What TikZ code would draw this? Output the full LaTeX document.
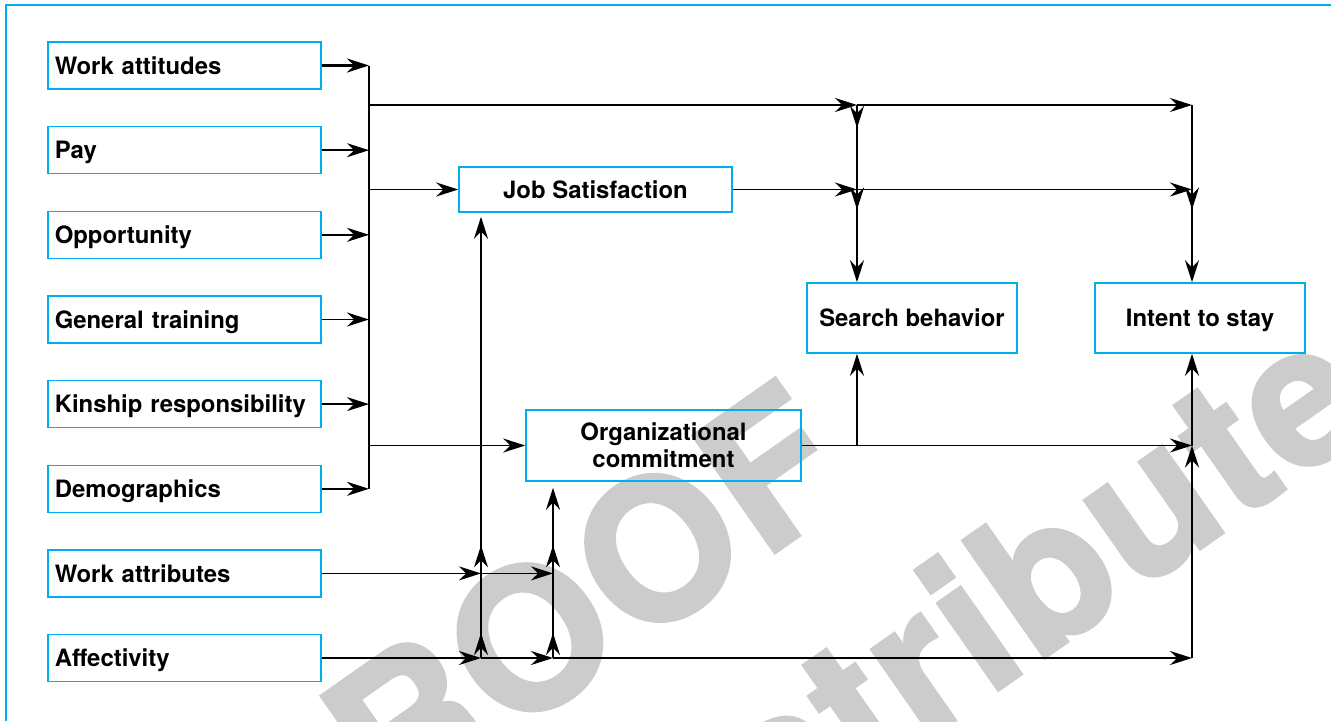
\documentclass[tikz,border=0pt]{standalone}
\usepackage{fontspec}
\setmainfont{TeX Gyre Heros}
\newfontfamily\markfont[FakeBold=2, LetterSpace=2]{TeX Gyre Heros}
\usetikzlibrary{arrows.meta}
\definecolor{boxcyan}{RGB}{0,174,239}
\tikzset{
	factor/.style={draw=boxcyan, line width=0.3mm, anchor=west, minimum height=9.4mm, text width=51.8mm, inner xsep=1.4mm, text height=9.8pt, text depth=0pt, align=left, font=\bfseries\fontsize{13.6}{15.4}\selectfont},
	stage/.style={draw=boxcyan, line width=0.3mm, align=center, font=\bfseries\fontsize{13.6}{15.4}\selectfont},
	wmark/.style={text=black!20, rotate=35, font=\markfont\bfseries\fontsize{111}{111}\selectfont}
}

\begin{document}
\begin{tikzpicture}[x=0.2mm, y=-0.2mm, line width=0.35mm, >={Stealth[length=4.4mm,width=2.8mm]}]
		\useasboundingbox (0,0) rectangle (1331,721);

		% Watermark behind everything, cut at the page edge
		\begin{scope}
			\clip (0,0) rectangle (1331,721);
			\node[wmark] (proof) at (530,637) {PROOF};
			\node[wmark] (nodist) at (680,825) {Do not distribute};
		\end{scope}

		% Frame, top and left only
		\draw[boxcyan, line width=0.25mm] (6,721) -- (6,5) -- (1331,5);

		% Draw input boxes
		\node[factor] (wa) at (47,65.5) {Work attitudes};
		\node[factor] (pay) at (47,150.2) {Pay};
		\node[factor] (opp) at (47,234.8) {Opportunity};
		\node[factor] (gt) at (47,319.5) {General training};
		\node[factor] (kin) at (47,404.1) {Kinship responsibility};
		\node[factor] (dem) at (47,488.8) {Demographics};
		\node[factor] (wat) at (47,573.4) {Work attributes};
		\node[factor] (aff) at (47,658) {Affectivity};

		% Draw outcome boxes
		\node[stage, minimum width=54.6mm, minimum height=9mm, text height=9.8pt, text depth=0pt] (js) at (595.5,189.5) {Job Satisfaction};
		\node[stage, minimum width=55mm, minimum height=14.2mm] (org) at (663.5,445.5) {Organizational\\commitment};
		\node[stage, minimum width=42mm, minimum height=14mm, text height=9.8pt, text depth=0pt] (search) at (912,318) {Search behavior};
		\node[stage, minimum width=42mm, minimum height=14mm, text height=9.8pt, text depth=0pt] (intent) at (1200,318) {Intent to stay};

		% Junctions
		\coordinate (bus) at (369,0);
		\coordinate (b1) at (369,105);
		\coordinate (a1) at (857,105);
		\coordinate (a2) at (857,189.5);
		\coordinate (a3) at (857,445.5);
		\coordinate (c1) at (1192,105);
		\coordinate (c2) at (1192,189.5);
		\coordinate (c3) at (1192,445.5);
		\coordinate (c4) at (1192,658);
		\coordinate (d1) at (481,658);
		\coordinate (d2) at (481,573.4);
		\coordinate (e1) at (553,658);
		\coordinate (e2) at (553,573.4);

		% -----------------------------------------------------
		\draw[->, line width=0.6mm] (wa.east) -- (wa.east -| bus);
		\draw[->] (pay.east) -- (pay.east -| bus);
		\draw[->] (opp.east) -- (opp.east -| bus);
		\draw[->] (gt.east) -- (gt.east -| bus);
		\draw[->] (kin.east) -- (kin.east -| bus);
		\draw[->] (dem.east) -- (dem.east -| bus);
		\draw (wa.east -| bus) -- (dem.east -| bus);

		\draw[->] (b1) -- (a1);
		\draw[->] (a1) -- (c1);
		\draw[->] (js.west -| bus) -- (js.west);
		\draw[->] (js.east) -- (a2);
		\draw[->] (a2) -- (c2);
		\draw[->] (org.west -| bus) -- (org.west);
		\draw[->] (org.east) -- (c3);
		\draw[->] (a3) -- (a3 |- search.south);

		% -----------------------------------------------------
		\draw[->] (a1) -- (a1 |- search.north);
		\draw[->] (a1) -- ++(0,23);
		\draw[->] (a2) -- ++(0,20);
		\draw[->] (c1) -- (c1 |- intent.north);
		\draw[->] (c2) -- ++(0,20);
		\draw[->] (c4) -- (c3);
		\draw[->] (c3) -- (c3 |- intent.south);

		% -----------------------------------------------------
		\draw[->] (wat.east) -- (d2);
		\draw[->] (d2) -- (e2);
		\draw[->] (aff.east) -- (d1);
		\draw[->] (d1) -- (e1);
		\draw[->] (e1) -- (c4);

		\draw[->, shorten >=0.8mm] (d1) -- (d1 |- js.south);
		\draw[->] (d1) -- ++(0,-25);
		\draw[->] (d2) -- ++(0,-28);
		\draw[->, shorten >=1.2mm] (e1) -- (e1 |- org.south);
		\draw[->] (e1) -- ++(0,-25);
		\draw[->] (e2) -- ++(0,-28);
\end{tikzpicture}
\end{document}
